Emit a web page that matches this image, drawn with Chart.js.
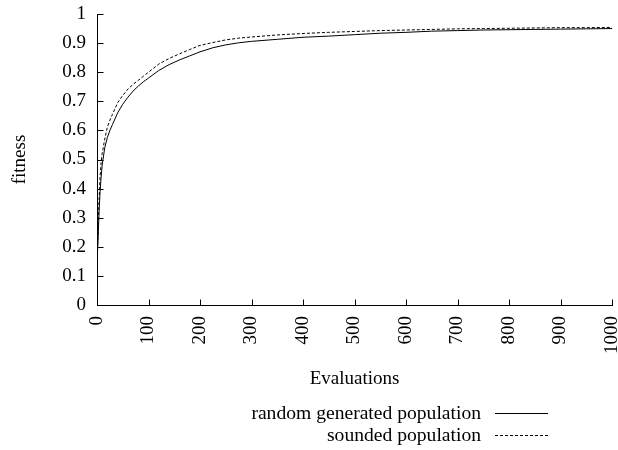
<!DOCTYPE html>
<html>
<head>
<meta charset="utf-8">
<script src="https://cdn.jsdelivr.net/npm/chart.js@4.4.1/dist/chart.umd.min.js"></script>
<style>
  html, body { margin: 0; padding: 0; background: #fff; }
  #wrap { width: 618px; height: 450px; }
</style>
</head>
<body>
<div id="wrap"><canvas id="c" width="618" height="450"></canvas></div>
<script>
const evaluations = [0, 2, 4, 6, 8, 10, 15, 20, 25, 30, 40, 50, 60, 70, 80, 90, 100, 120, 140, 160, 180, 200, 225, 250, 275, 300, 350, 400, 450, 500, 550, 600, 650, 700, 750, 800, 850, 900, 950, 1000];
const randomPopulation = [0.15, 0.22, 0.32, 0.39, 0.44, 0.48, 0.54, 0.575, 0.60, 0.62, 0.66, 0.69, 0.714, 0.735, 0.752, 0.767, 0.78, 0.806, 0.826, 0.842, 0.856, 0.870, 0.884, 0.894, 0.901, 0.906, 0.913, 0.920, 0.924, 0.929, 0.934, 0.937, 0.941, 0.943, 0.945, 0.946, 0.947, 0.948, 0.949, 0.950];
const soundedPopulation = [0.12, 0.25, 0.36, 0.44, 0.49, 0.52, 0.57, 0.61, 0.635, 0.655, 0.695, 0.72, 0.742, 0.758, 0.772, 0.786, 0.80, 0.828, 0.847, 0.863, 0.878, 0.892, 0.902, 0.911, 0.917, 0.921, 0.928, 0.933, 0.937, 0.940, 0.943, 0.945, 0.947, 0.949, 0.950, 0.951, 0.952, 0.953, 0.953, 0.954];
const seriesNames = ["random generated population", "sounded population"];
const xTitle = "Evaluations";
const yTitle = "fitness";

const FONT = "'Liberation Serif', 'Times New Roman', serif";
Chart.defaults.color = '#000';
Chart.defaults.font.family = FONT;
Chart.defaults.font.size = 19;

function pts(xs, ys) { return xs.map((x, i) => ({ x: x, y: ys[i] })); }

const inwardTicks = {
  id: 'inwardTicks',
  afterDatasetsDraw(chart) {
    const ctx = chart.ctx;
    const xs = chart.scales.x, ys = chart.scales.y;
    const L = 6;
    ctx.save();
    ctx.strokeStyle = '#000';
    ctx.lineWidth = 1;
    ctx.beginPath();
    xs.ticks.forEach(t => {
      const px = Math.round(xs.getPixelForValue(t.value)) + 0.5;
      const b = Math.round(ys.bottom) + 0.5;
      ctx.moveTo(px, b); ctx.lineTo(px, b - L);
    });
    ys.ticks.forEach(t => {
      const py = Math.round(ys.getPixelForValue(t.value)) + 0.5;
      const l = Math.round(xs.left) + 0.5;
      ctx.moveTo(l, py); ctx.lineTo(l + L, py);
    });
    ctx.stroke();
    ctx.restore();
  }
};

const sideLegend = {
  id: 'sideLegend',
  afterDraw(chart) {
    const ctx = chart.ctx;
    ctx.save();
    ctx.font = "19.6px " + FONT;
    ctx.fillStyle = '#000';
    ctx.textAlign = 'right';
    ctx.textBaseline = 'middle';
    const rows = [413, 435];
    chart.data.datasets.forEach((ds, i) => {
      const y = rows[i];
      ctx.fillText(ds.label, 481, y + 1);
      ctx.strokeStyle = ds.borderColor;
      ctx.lineWidth = ds.borderWidth;
      ctx.setLineDash(ds.borderDash || []);
      ctx.beginPath();
      ctx.moveTo(495, Math.round(y) + 0.5);
      ctx.lineTo(548, Math.round(y) + 0.5);
      ctx.stroke();
    });
    ctx.restore();
  }
};

new Chart(document.getElementById('c'), {
  type: 'line',
  data: {
    datasets: [
      { label: seriesNames[0], data: pts(evaluations, randomPopulation), borderColor: '#000', borderWidth: 1, pointRadius: 0, tension: 0, fill: false },
      { label: seriesNames[1], data: pts(evaluations, soundedPopulation), borderColor: '#000', borderWidth: 1, borderDash: [3, 2], pointRadius: 0, tension: 0, fill: false }
    ]
  },
  options: {
    responsive: false,
    animation: false,
    layout: { padding: { left: 0, right: 6, top: 14, bottom: 50 } },
    plugins: { legend: { display: false }, tooltip: { enabled: false } },
    scales: {
      x: {
        type: 'linear', min: 0, max: 1000,
        ticks: { stepSize: 100, maxRotation: 90, minRotation: 90, padding: 11, autoSkip: false,
                 callback: v => String(Math.round(v)) },
        grid: { drawOnChartArea: false, drawTicks: false },
        border: { display: true, color: '#000', width: 1 },
        title: { display: true, text: xTitle, padding: { top: 0, bottom: 10 } },
        afterFit(s) { s.height = 95; s.paddingLeft = 0; s.paddingRight = 0; }
      },
      y: {
        min: 0, max: 1,
        ticks: { stepSize: 0.1, padding: 11,
                 callback: v => String(Math.round(v * 10) / 10) },
        grid: { drawOnChartArea: false, drawTicks: false },
        border: { display: true, color: '#000', width: 1 },
        title: { display: true, text: yTitle, padding: { top: 9, bottom: 0 } },
        afterFit(s) { s.width = 97; s.paddingTop = 0; s.paddingBottom = 0; }
      }
    }
  },
  plugins: [inwardTicks, sideLegend]
});
</script>
</body>
</html>
